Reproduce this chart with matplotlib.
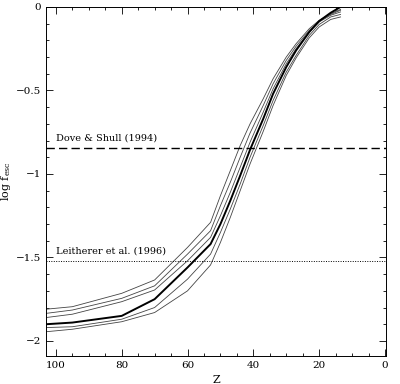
import matplotlib.pyplot as plt
from matplotlib.ticker import MultipleLocator

# redshift grid shared by all model curves
z = [103, 95, 80, 70, 60, 53, 50, 47, 44, 41, 37, 34, 30, 27, 23, 20, 16.5, 13.5]

# log f_esc for the family of models (top to bottom at high z)
curve_a = [-1.81, -1.795, -1.715, -1.635, -1.44, -1.29, -1.13, -0.98, -0.83, -0.70,
           -0.55, -0.43, -0.30, -0.22, -0.13, -0.08, -0.04, -0.015]
curve_b = [-1.835, -1.815, -1.745, -1.67, -1.48, -1.34, -1.19, -1.05, -0.90, -0.755,
           -0.59, -0.46, -0.32, -0.235, -0.14, -0.085, -0.045, -0.02]
curve_c = [-1.86, -1.84, -1.765, -1.695, -1.52, -1.38, -1.25, -1.11, -0.96, -0.81,
           -0.63, -0.49, -0.34, -0.25, -0.15, -0.09, -0.05, -0.03]
curve_fid = [-1.90, -1.89, -1.85, -1.75, -1.56, -1.42, -1.30, -1.16, -1.01, -0.855,
             -0.67, -0.52, -0.36, -0.26, -0.15, -0.085, -0.035, 0.0]
curve_d = [-1.92, -1.915, -1.87, -1.80, -1.63, -1.48, -1.35, -1.21, -1.06, -0.90,
           -0.71, -0.56, -0.39, -0.29, -0.17, -0.105, -0.06, -0.045]
curve_e = [-1.945, -1.93, -1.885, -1.83, -1.70, -1.545, -1.41, -1.26, -1.10, -0.94,
           -0.745, -0.59, -0.41, -0.305, -0.185, -0.12, -0.075, -0.06]

dove_shull = -0.845
leitherer = -1.52

yticks = [0, -0.5, -1, -1.5, -2]
ytick_labels = ['0', '\u22120.5', '\u22121', '\u22121.5', '\u22122']
xticks = [100, 80, 60, 40, 20, 0]

plt.rcParams['font.family'] = ['DejaVu Serif']
plt.rcParams['mathtext.fontset'] = 'dejavuserif'

fig = plt.figure(figsize=(4.0, 3.84), dpi=100)
ax = fig.add_axes([0.115, 0.073, 0.85, 0.909])

for c in [curve_a, curve_b, curve_c, curve_d, curve_e]:
    ax.plot(z, c, color='#444444', lw=0.6)
ax.plot(z, curve_fid, color='black', lw=1.4)

ax.axhline(dove_shull, color='black', lw=1.0, ls=(0, (6, 3)))
ax.axhline(leitherer, color='black', lw=0.7, ls=(0, (1, 1.5)))

ax.text(100, dove_shull + 0.03, 'Dove & Shull (1994)', fontsize=7, va='bottom')
ax.text(100, leitherer + 0.03, 'Leitherer et al. (1996)', fontsize=7, va='bottom')

ax.set_xlim(103, -0.3)
ax.set_ylim(-2.09, 0)
ax.set_xticks(xticks)
ax.set_yticks(yticks)
ax.set_yticklabels(ytick_labels)
ax.xaxis.set_minor_locator(MultipleLocator(5))
ax.yaxis.set_minor_locator(MultipleLocator(0.1))
ax.tick_params(which='both', direction='in', top=True, right=True, labelsize=7.5, width=0.6)
ax.tick_params(which='major', length=5)
ax.tick_params(which='minor', length=2.5)
for s in ax.spines.values():
    s.set_linewidth(0.7)

ax.set_xlabel('Z', fontsize=8, labelpad=4)
ax.set_ylabel(r'log f$_{\rm esc}$', fontsize=8, labelpad=2)

fig.savefig('out.png', dpi=100)
